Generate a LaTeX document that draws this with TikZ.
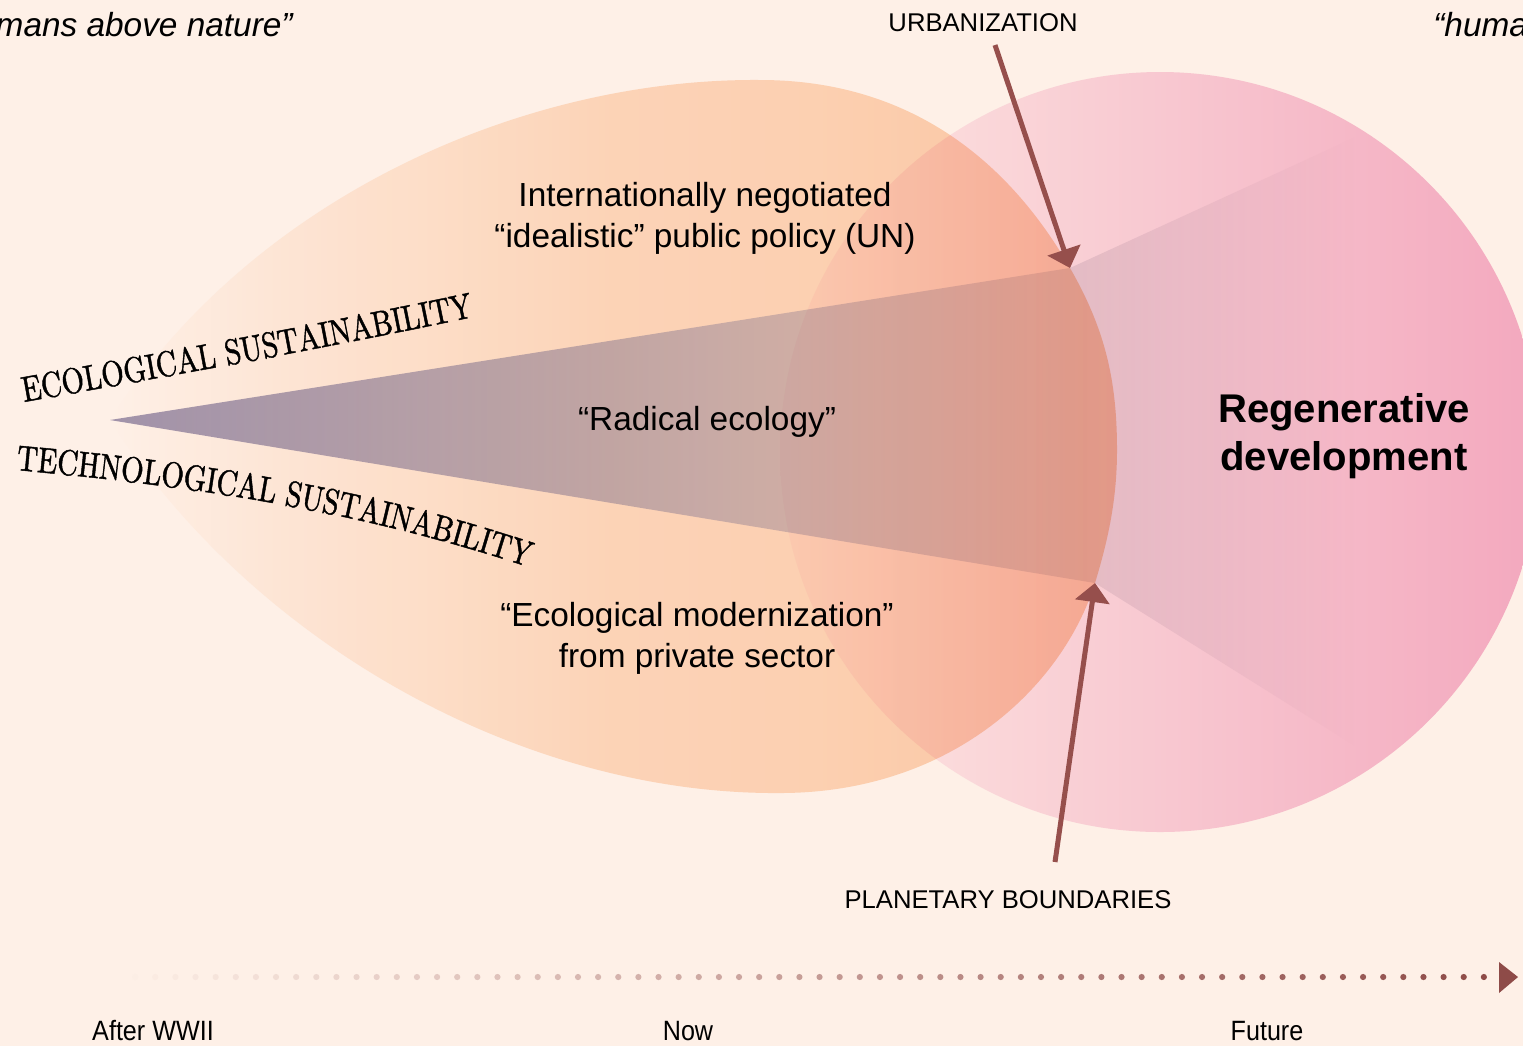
\documentclass[tikz,border=0pt]{standalone}
\usepackage{fontspec}
\setmainfont{Liberation Sans}
\newfontfamily\condfont[FakeStretch=0.9]{Liberation Sans}
\newfontfamily\capsfont[FakeStretch=0.8,FakeBold=1.2]{lmroman10-regular.otf}
\usepackage{xcolor}
\usetikzlibrary{arrows.meta,decorations.text}

\definecolor{paper}{HTML}{FEF0E7}
\definecolor{pinkL}{HTML}{FDE8E3}
\definecolor{pinkR}{HTML}{F3A8BE}
\definecolor{peach1}{HTML}{FEF2E8}
\definecolor{peach2}{HTML}{FDE1CA}
\definecolor{peach3}{HTML}{FDDDC4}
\definecolor{peach4}{HTML}{FBD0B0}
\definecolor{cone1}{HTML}{A29CBC}
\definecolor{cone2}{HTML}{CACFEA}
\definecolor{cone3}{HTML}{EAE8ED}
\definecolor{arrowc}{HTML}{964F4C}
\definecolor{dotc}{HTML}{8E4B48}

% horizontal fills, the path's box runs from 25bp to 75bp
\pgfdeclarehorizontalshading{teardrop}{100bp}{color(0bp)=(white); color(25bp)=(white);
  color(35bp)=(peach1); color(50bp)=(peach2); color(60bp)=(peach3); color(75bp)=(peach4); color(100bp)=(peach4)}
\pgfdeclarehorizontalshading{cone}{100bp}{color(0bp)=(cone1); color(25bp)=(cone1);
  color(48.6bp)=(cone2); color(63.8bp)=(cone3); color(75bp)=(white); color(100bp)=(white)}

\begin{document}
\begin{tikzpicture}[x=0.02cm,y=0.02cm,
  label/.style={font=\fontsize{19}{22.8}\selectfont,align=center,inner sep=0pt},
  marker/.style={font=\fontsize{14.6}{17}\selectfont,inner sep=0pt},
  era/.style={font=\condfont\fontsize{15.9}{18}\selectfont,inner sep=0pt},
  pointer/.style={draw=arrowc,line width=0.1cm,-{Triangle[length=0.38cm,width=0.68cm]}},
  arced/.style={decorate,decoration={text along path,
    text={|\capsfont\fontsize{20.5}{22}\selectfont|#1}}}]
  \fill[paper] (0,0) rectangle (1523,-1046);
  \useasboundingbox (0,0) rectangle (1523,-1046);

  \coordinate (tip) at (110,-420);
  \coordinate (coneA) at (1070,-268);
  \coordinate (coneB) at (1095,-583);
  \coordinate (wedgeTop) at (1360,-135);
  \coordinate (wedgeBot) at (1360,-749);

  % future circle
  \shade[left color=pinkL,right color=pinkR] (1160,-452) circle (380);

  \begin{scope}[blend mode=multiply]
    \shade[shading=teardrop] (tip) .. controls (250,-200) and (520,-78) .. (760,-80)
      .. controls (920,-80) and (1015,-172) .. (coneA)
      .. controls (1105,-329) and (1117,-380) .. (1117,-450)
      .. controls (1117,-500) and (1108,-540) .. (coneB)
      .. controls (1062,-688) and (950,-793) .. (780,-793)
      .. controls (520,-795) and (250,-640) .. (tip) -- cycle;
    \shade[shading=cone] (tip) -- (coneA) -- (wedgeTop) -- (wedgeBot) -- (coneB) -- cycle;
  \end{scope}

  \path[arced={ECOLOGICAL SUSTAINABILITY}] (24,-402) .. controls (180,-374) and (330,-348) .. (530,-305);
  \path[arced={TECHNOLOGICAL SUSTAINABILITY}] (16,-470) .. controls (200,-487) and (380,-512) .. (580,-585);

  \node[label,anchor=base] (intl) at (705,-247) {Internationally negotiated\\“idealistic” public policy (UN)};
  \node[label,anchor=base] (radical) at (707,-430) {“Radical ecology”};
  \node[label,anchor=base] (modern) at (697,-667) {“Ecological modernization”\\from private sector};
  \node[font=\bfseries\fontsize{22.8}{27.3}\selectfont,align=center,anchor=base,inner sep=0pt] (regen) at (1344,-470) {Regenerative\\development};

  \node[marker,anchor=base] (urban) at (983,-31) {URBANIZATION};
  \node[marker,anchor=base] (planet) at (1008,-908) {PLANETARY BOUNDARIES};
  \coordinate (urbtail) at (995,-45);
  \coordinate (planettail) at (1055,-862);
  \draw[pointer] (urbtail) -- (coneA);
  \draw[pointer] (planettail) -- (coneB);

  \node[font=\itshape\fontsize{19}{22}\selectfont,anchor=base east,inner sep=0pt] (humansL) at (293,-36) {mans above nature”};
  \node[font=\itshape\fontsize{19}{22}\selectfont,anchor=base west,inner sep=0pt] (humansR) at (1433,-36) {“huma};

  % time line
  \foreach \i in {0,...,68} {
    \pgfmathsetmacro\mix{100*\i/68}
    \fill[dotc!\mix!paper] (115+\i*20.13,-977) circle (3.1);
  }
  \fill[dotc] (1499,-962) -- (1518,-977) -- (1499,-993) -- cycle;
  \node[era,anchor=base] (postwar) at (153,-1040) {After WWII};
  \node[era,anchor=base] (now) at (688,-1040) {Now};
  \node[era,anchor=base] (future) at (1267,-1040) {Future};
\end{tikzpicture}
\end{document}
